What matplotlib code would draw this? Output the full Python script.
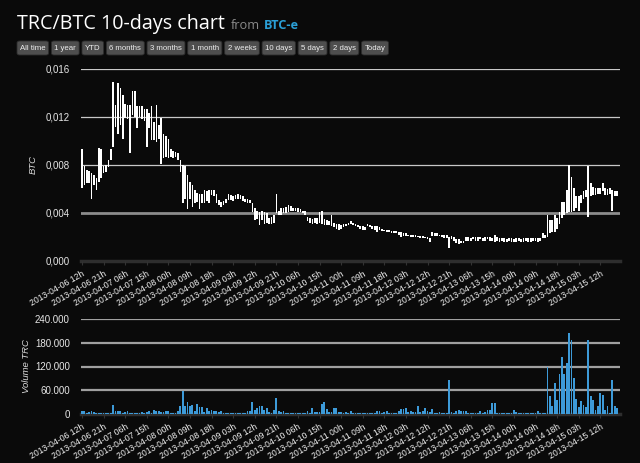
import matplotlib
matplotlib.use("Agg")
import matplotlib.pyplot as plt
import numpy as np
from matplotlib.patches import FancyBboxPatch
from matplotlib.ticker import FuncFormatter, FixedLocator
from matplotlib import font_manager

# ---------------- data ----------------
# hourly candles starting 2013-04-06 12h, price range in 1e-4 BTC
price_high_e4 = [
    93, 79, 76, 75, 73, 72, 69, 94, 93, 79,
    80, 84, 93, 149, 130, 148, 144, 138, 131, 130,
    130, 142, 142, 129, 129, 129, 127, 127, 123, 129,
    116, 130, 113, 119, 106, 104, 102, 93, 92, 91,
    90, 84, 80, 79, 72, 66, 63, 59, 57, 56,
    56, 59, 58, 59, 59, 59, 56, 51, 49, 50,
    52, 56, 55, 54, 55, 56, 55, 54, 52, 52,
    51, 48, 44, 42, 41, 42, 41, 40, 36, 37,
    38, 56, 42, 44, 44, 45, 47, 46, 44, 44,
    44, 43, 42, 42, 37, 36, 35, 36, 36, 41,
    42, 35, 34, 33, 38, 32, 31, 31, 30, 31,
    31, 32, 33, 32, 31, 30, 29, 29, 28, 31,
    30, 29, 29, 29, 28, 27, 26, 26, 26, 25,
    25, 25, 24, 24, 23, 23, 22, 22, 22, 22,
    21, 21, 21, 20, 20, 19, 24, 23, 23, 22,
    22, 22, 22, 20, 21, 20, 18, 18, 17, 17,
    20, 20, 19, 20, 20, 20, 20, 19, 20, 20,
    20, 19, 22, 20, 19, 19, 19, 18, 19, 19,
    18, 19, 19, 18, 19, 19, 19, 19, 19, 19,
    19, 19, 23, 22, 38, 34, 34, 38, 36, 41,
    49, 49, 59, 80, 70, 61, 54, 54, 55, 58,
    59, 79, 65, 62, 61, 61, 61, 65, 61, 60,
    61, 59, 58, 58,
]
price_low_e4 = [
    61, 63, 65, 65, 52, 63, 59, 66, 69, 73,
    74, 78, 84, 95, 112, 106, 113, 102, 119, 118,
    90, 122, 120, 111, 120, 118, 117, 95, 111, 101,
    101, 99, 102, 81, 86, 87, 86, 87, 86, 87,
    84, 74, 48, 52, 43, 52, 45, 48, 49, 43,
    48, 48, 50, 48, 55, 54, 48, 47, 45, 47,
    48, 51, 51, 50, 52, 52, 52, 50, 49, 48,
    48, 41, 34, 35, 30, 34, 31, 32, 31, 31,
    32, 40, 38, 38, 40, 40, 41, 42, 42, 42,
    41, 41, 40, 38, 33, 32, 31, 32, 31, 32,
    31, 30, 30, 30, 29, 28, 27, 26, 27, 28,
    29, 30, 31, 30, 29, 28, 27, 26, 26, 29,
    28, 27, 26, 24, 26, 25, 25, 24, 24, 23,
    23, 23, 22, 20, 21, 21, 21, 20, 20, 20,
    20, 19, 19, 19, 18, 16, 21, 21, 21, 21,
    20, 19, 19, 11, 18, 17, 15, 14, 15, 15,
    17, 17, 17, 18, 17, 17, 18, 17, 17, 18,
    17, 17, 16, 17, 16, 17, 16, 16, 17, 16,
    16, 16, 17, 16, 16, 17, 16, 16, 17, 17,
    16, 17, 19, 19, 20, 23, 24, 24, 27, 31,
    36, 38, 40, 41, 41, 42, 44, 42, 48, 52,
    53, 37, 54, 55, 55, 56, 56, 58, 55, 55,
    56, 42, 54, 54,
]
# hourly traded volume, thousands of TRC
volume_k = [
    8, 8, 3, 4, 8, 4, 2, 3, 3, 3,
    2, 3, 3, 24, 8, 7, 7, 2, 4, 7,
    3, 3, 3, 2, 3, 4, 3, 4, 7, 3,
    11, 8, 8, 5, 4, 7, 7, 3, 2, 2,
    8, 19, 59, 21, 30, 21, 24, 8, 26, 17,
    17, 5, 14, 8, 11, 8, 8, 4, 8, 2,
    3, 3, 2, 3, 3, 2, 3, 2, 2, 8,
    8, 30, 11, 14, 21, 21, 11, 15, 5, 2,
    10, 41, 7, 5, 8, 2, 2, 2, 2, 3,
    2, 2, 3, 2, 8, 2, 15, 5, 4, 5,
    25, 30, 13, 5, 4, 15, 15, 4, 6, 2,
    4, 3, 8, 3, 3, 3, 3, 3, 3, 3,
    3, 3, 3, 8, 8, 3, 5, 8, 3, 2,
    2, 3, 7, 13, 13, 15, 5, 8, 4, 6,
    19, 5, 8, 15, 8, 5, 13, 3, 3, 5,
    3, 3, 3, 85, 5, 3, 8, 11, 7, 7,
    7, 3, 3, 3, 3, 3, 8, 3, 5, 11,
    11, 28, 28, 3, 3, 3, 3, 2, 2, 2,
    11, 5, 2, 2, 2, 2, 2, 2, 2, 2,
    7, 2, 2, 2, 119, 46, 21, 79, 36, 101,
    143, 102, 129, 205, 186, 90, 39, 17, 34, 24,
    17, 186, 46, 35, 11, 20, 52, 49, 11, 21,
    3, 85, 19, 15,
]
tick_labels = [
    "2013-04-06 12h", "2013-04-06 21h", "2013-04-07 06h", "2013-04-07 15h",
    "2013-04-08 00h", "2013-04-08 09h", "2013-04-08 18h", "2013-04-09 03h",
    "2013-04-09 12h", "2013-04-09 21h", "2013-04-10 06h", "2013-04-10 15h",
    "2013-04-11 00h", "2013-04-11 09h", "2013-04-11 18h", "2013-04-12 03h",
    "2013-04-12 12h", "2013-04-12 21h", "2013-04-13 06h", "2013-04-13 15h",
    "2013-04-14 00h", "2013-04-14 09h", "2013-04-14 18h", "2013-04-15 03h",
    "2013-04-15 12h",
]
tick_step_hours = 9
button_labels = ["All time", "1 year", "YTD", "6 months", "3 months", "1 month",
                 "2 weeks", "10 days", "5 days", "2 days", "Today"]

# ---------------- style ----------------
BG = "#0a0a0a"
names = {f.name for f in font_manager.fontManager.ttflist}
SANS = "Liberation Sans" if "Liberation Sans" in names else "DejaVu Sans"
NARROW = "Liberation Sans Narrow" if "Liberation Sans Narrow" in names else SANS
TITLE = "Open Sans" if "Open Sans" in names else SANS

W, H = 640, 463
fig = plt.figure(figsize=(W / 100, H / 100), dpi=100, facecolor=BG)

def fx(px):
    return px / W

def fy(py):
    return 1 - py / H

hours = np.arange(len(price_high_e4))
hi = np.array(price_high_e4) * 1e-4
lo = np.array(price_low_e4) * 1e-4
vol = np.array(volume_k) * 1000
xlim = (-0.4, 224.2)
tick_pos = np.arange(len(tick_labels)) * tick_step_hours

fig.canvas.draw()
renderer = fig.canvas.get_renderer()

# ---------------- title ----------------
t1 = fig.text(fx(17), fy(29), "TRC/BTC 10-days chart", fontsize=14.2, color="white",
              family=TITLE, va="baseline")
x_end = t1.get_window_extent(renderer).x1
t2 = fig.text(fx(x_end + 6), fy(29), "from", fontsize=9.2, color="#8a8a8a",
              family=TITLE, va="baseline")
x_end = t2.get_window_extent(renderer).x1
fig.text(fx(x_end + 4), fy(29), "BTC-e", fontsize=9.2, color="#2a9fd6", family=TITLE,
         fontweight="bold", va="baseline")

# ---------------- buttons ----------------
xb = 17
for lab in button_labels:
    t = fig.text(0, fy(48), lab, fontsize=5.6, color="#eeeeee", family=NARROW,
                 va="center", ha="center", zorder=3)
    tw = t.get_window_extent(renderer).width
    bw = tw + 6
    box = FancyBboxPatch((fx(xb), fy(55)), fx(bw), 14 / H,
                         boxstyle="round,pad=0,rounding_size=0.004",
                         transform=fig.transFigure, facecolor="#4e4e4e",
                         edgecolor="#2c2c2c", linewidth=0.6, zorder=2)
    fig.patches.append(box)
    t.set_x(fx(xb + bw / 2))
    xb += bw + 2.8

# ---------------- price chart ----------------
ax1 = fig.add_axes([fx(81), fy(261), fx(539), (261 - 69) / H], facecolor=BG)
ax1.bar(hours, hi - lo, bottom=lo, width=0.7, color="white", linewidth=0, zorder=3)
ax1.set_xlim(*xlim)
ax1.set_ylim(0, 0.016)
ax1.yaxis.set_major_locator(FixedLocator([0, 0.004, 0.008, 0.012, 0.016]))
ax1.yaxis.set_major_formatter(FuncFormatter(lambda v, p: f"{v:.3f}".replace(".", ",")))
for yv in [0.008, 0.012, 0.016]:
    ax1.axhline(yv, color="#c8c8c8", lw=0.9, zorder=1)
ax1.axhline(0.004, color="#8c8c8c", lw=2.0, zorder=1)
ax1.axhline(0, color="#2e2e2e", lw=2.5, zorder=1, clip_on=False)
ax1.set_ylabel("BTC", color="#dddddd", fontsize=6.8, style="italic", family=SANS)
ax1.yaxis.set_label_coords(-0.08, 0.5)

# ---------------- volume chart ----------------
ax2 = fig.add_axes([fx(81), fy(414), fx(539), (414 - 319) / H], facecolor=BG)
ax2.bar(hours, vol, width=0.75, color="#3d9ad8", linewidth=0, zorder=3)
ax2.set_xlim(*xlim)
ax2.set_ylim(0, 240000)
ax2.yaxis.set_major_locator(FixedLocator([0, 60000, 120000, 180000, 240000]))
ax2.yaxis.set_major_formatter(FuncFormatter(
    lambda v, p: "0" if v == 0 else f"{int(v):,}".replace(",", ".")))
for yv in [60000, 120000, 180000, 240000]:
    ax2.axhline(yv, color="#a0a0a0", lw=1.6, zorder=1)
ax2.axhline(0, color="#2e2e2e", lw=2.5, zorder=1, clip_on=False)
ax2.set_ylabel("Volume TRC", color="#dddddd", fontsize=6.8, style="italic", family=SANS)
ax2.yaxis.set_label_coords(-0.092, 0.5)

for ax in (ax1, ax2):
    for s in ax.spines.values():
        s.set_visible(False)
    ax.set_xticks(tick_pos)
    ax.set_xticklabels(tick_labels, rotation=30, ha="right", va="top",
                       rotation_mode="anchor", fontsize=6.2, color="#f0f0f0", family=SANS)
    ax.tick_params(axis="x", length=3, color="#333333", pad=3)
    ax.tick_params(axis="y", length=0, labelsize=7, labelcolor="#e6e6e6", pad=8)
    for t in ax.get_yticklabels():
        t.set_family(SANS)

fig.savefig("out.png", dpi=100, facecolor=BG)
